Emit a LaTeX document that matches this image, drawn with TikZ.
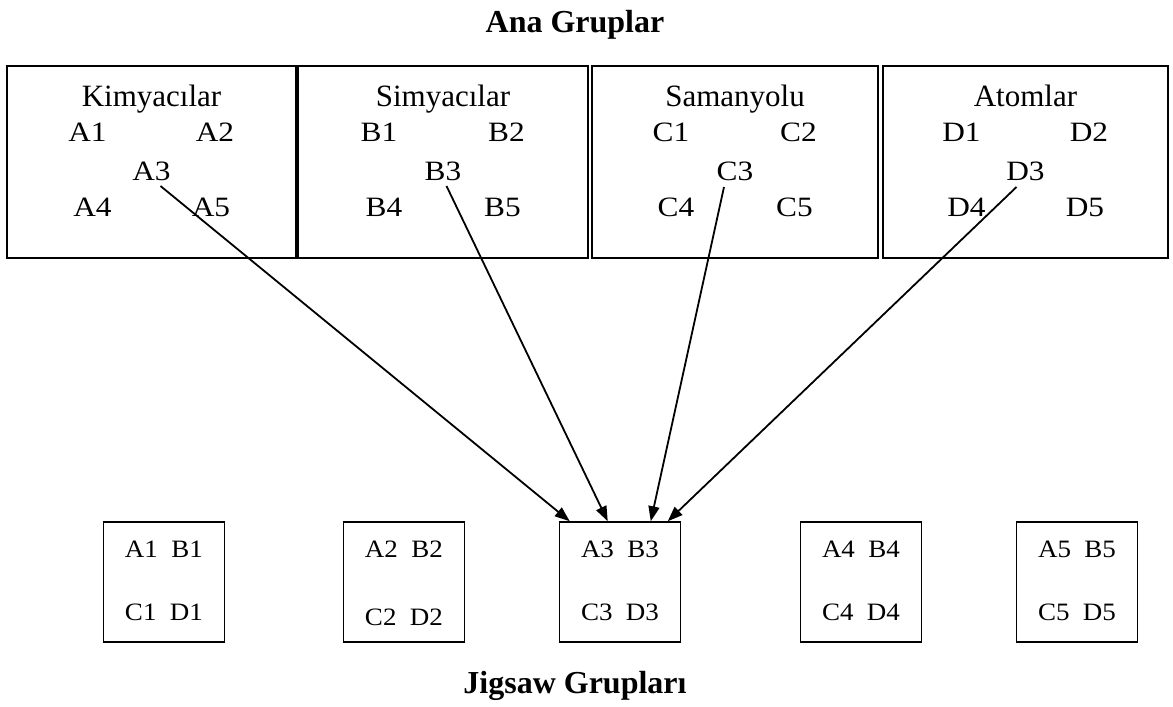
\documentclass[tikz,border=0pt]{standalone}
\usepackage{fontspec}
\setmainfont{Liberation Serif}
\newfontfamily\itemfont{Liberation Serif}[FakeStretch=1.12]
\newfontfamily\cellfont{Liberation Serif}[FakeStretch=1.08]
\usetikzlibrary{arrows.meta}

\begin{document}
\begin{tikzpicture}[x=1pt,y=-1pt,
  groupbox/.style={draw, line width=1.8pt, inner sep=0pt, minimum height=192pt},
  cellbox/.style={draw, line width=1.5pt, inner sep=0pt, minimum width=121pt, minimum height=120pt},
  heading/.style={anchor=base, inner sep=0pt, font=\bfseries\fontsize{32}{38}\selectfont},
  groupname/.style={anchor=base, inner sep=0pt, font=\fontsize{31}{36}\selectfont},
  member/.style={anchor=base, inner sep=0pt, font=\itemfont\fontsize{28}{32}\selectfont},
  cell/.style={anchor=base, inner sep=0pt, font=\cellfont\fontsize{25}{30}\selectfont},
  link/.style={line width=1.8pt, -{Triangle[length=15pt,width=11pt]}}]

\useasboundingbox (0,0) rectangle (1173,707);

% headings
\node[heading] (top) at (575,32) {Ana Gruplar};
\node[heading] (bottom) at (575,693) {Jigsaw Grupları};

% home groups
\node[groupbox, minimum width=289pt] (T1) at (151.5,162) {};
\node[groupbox, minimum width=290pt] (T2) at (443,162) {};
\node[groupbox, minimum width=286pt] (T3) at (735,162) {};
\node[groupbox, minimum width=285pt] (T4) at (1025.5,162) {};

\foreach \g/\L/\name/\cx in {1/A/Kimyacılar/151.5, 2/B/Simyacılar/443, 3/C/Samanyolu/735, 4/D/Atomlar/1025.5}{
  \node[groupname] (N\g) at (\cx,106) {\name};
  \node[member] (\L1) at (\cx-64,141.7) {\L1};
  \node[member] (\L2) at (\cx+63.5,141.7) {\L2};
  \node[member] (\L3) at (\cx,180) {\L3};
  \node[member] (\L4) at (\cx-59,216.7) {\L4};
  \node[member] (\L5) at (\cx+59.5,216.7) {\L5};
}

% jigsaw groups
\node[cellbox] (J1) at (164,582) {};
\node[cellbox] (J2) at (404,582) {};
\node[cellbox] (J3) at (620,582) {};
\node[cellbox] (J4) at (861,582) {};
\node[cellbox] (J5) at (1077,582) {};

\node[cell] (J1a) at (164,557) {A1\ \ B1};
\node[cell] (J1b) at (164,620) {C1\ \ D1};
\node[cell] (J2a) at (404,557) {A2\ \ B2};
\node[cell] (J2b) at (404,625) {C2\ \ D2};
\node[cell] (J3a) at (620,557) {A3\ \ B3};
\node[cell] (J3b) at (620,620) {C3\ \ D3};
\node[cell] (J4a) at (861,557) {A4\ \ B4};
\node[cell] (J4b) at (861,620) {C4\ \ D4};
\node[cell] (J5a) at (1077,557) {A5\ \ B5};
\node[cell] (J5b) at (1077,620) {C5\ \ D5};

% experts meeting in the third jigsaw group
\draw[link] ([shift={(9,6)}]A3.base) -- ([xshift=11pt]J3.north west);
\draw[link] ([shift={(3.5,6)}]B3.base) -- ([xshift=49pt]J3.north west);
\draw[link] ([shift={(-11,7)}]C3.base) -- ([xshift=92pt]J3.north west);
\draw[link] ([shift={(-9,7)}]D3.base) -- ([xshift=109pt]J3.north west);
\end{tikzpicture}
\end{document}
